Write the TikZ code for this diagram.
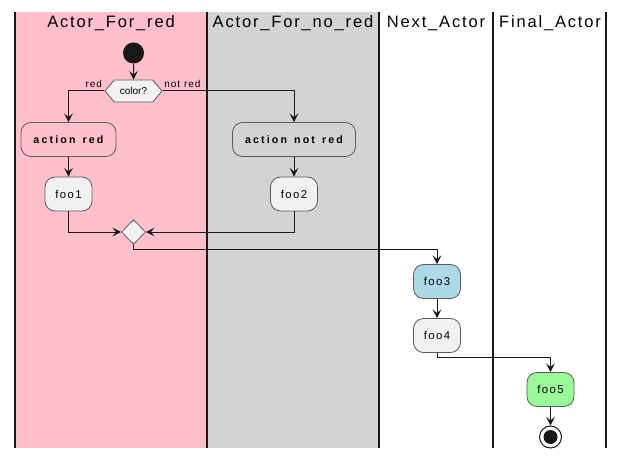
\documentclass[tikz,border=0pt]{standalone}
\usepackage{fontspec}
\setmainfont{Liberation Sans}
\usetikzlibrary{arrows.meta,shapes.geometric,shapes.symbols}
\definecolor{lanered}{HTML}{FFC0CB}
\definecolor{lanegray}{HTML}{D3D3D3}
\definecolor{boxfill}{HTML}{F1F1F1}
\definecolor{boxline}{HTML}{5B5B5B}
\definecolor{inkline}{HTML}{181818}
\definecolor{foothree}{HTML}{ADD8E6}
\definecolor{foofive}{HTML}{98FB98}
\begin{document}
\begin{tikzpicture}[x=0.75pt,y=-0.75pt,
	lanetitle/.style={font=\fontsize{12.4}{14}\selectfont\addfontfeature{LetterSpace=11}},
	actbox/.style={draw=boxline,line width=0.6pt,rounded corners=7.5pt,minimum height=25.5pt,inner sep=0pt,font=\fontsize{8.5}{10}\selectfont\addfontfeature{LetterSpace=12}},
	foobox/.style={actbox,fill=boxfill,minimum width=35.25pt},
	actlabel/.style={actbox,font=\fontsize{8}{10}\selectfont\bfseries\addfontfeature{LetterSpace=20}},
	flow/.style={draw=inkline,line width=0.75pt,-{Stealth[length=6.5pt,width=6.5pt,inset=2.7pt]}},
	branchlabel/.style={font=\fontsize{7.5}{9}\selectfont\addfontfeature{LetterSpace=10},inner sep=0pt}]
	\useasboundingbox (0,0) rectangle (625,460);
	\fill[lanered] (15,12) rectangle (207,448);
	\fill[lanegray] (207,12) rectangle (379,448);
	\foreach \x in {15,207,379,493,606}
		\draw[inkline,line width=0.9pt] (\x,12) -- (\x,448);
	\node[lanetitle] (t1) at (111,23.5) {Actor\_For\_red};
	\node[lanetitle] (t2) at (293,23.5) {Actor\_For\_no\_red};
	\node[lanetitle] (t3) at (436,23.5) {Next\_Actor};
	\node[lanetitle] (t4) at (550,23.5) {Final\_Actor};
	\node[circle,fill=inkline,minimum size=15.8pt,inner sep=0pt] (start) at (133.5,53) {};
	\node[signal,signal to=west and east,signal pointer angle=100,draw=boxline,fill=boxfill,line width=0.6pt,minimum width=42.75pt,minimum height=16.5pt,inner sep=0pt,font=\fontsize{7.5}{9}\selectfont] (color) at (133.5,91) {color?};
	\node[actlabel,fill=lanered,minimum width=71.25pt] (actred) at (68.5,139.5) {action\hspace{1.5pt} red};
	\node[actlabel,fill=lanegray,minimum width=92.25pt] (actnotred) at (294,139.5) {action\hspace{1.5pt} not\hspace{1.5pt} red};
	\node[foobox] (foo1) at (68.5,194) {foo1};
	\node[foobox] (foo2) at (294,194) {foo2};
	\node[diamond,draw=boxline,fill=boxfill,line width=0.6pt,minimum width=18pt,minimum height=18.75pt,inner sep=0pt] (merge) at (133.5,232) {};
	\coordinate (j1) at (133.5,249);
	\node[foobox,fill=foothree] (foo3) at (437,281.5) {foo3};
	\node[foobox] (foo4) at (437,335.5) {foo4};
	\coordinate (j2) at (437,357);
	\node[foobox,fill=foofive] (foo5) at (550.5,389.5) {foo5};
	\node[circle,draw=inkline,fill=white,line width=0.75pt,minimum size=16.5pt,inner sep=0pt] (stop) at (550.5,437) {};
	\fill[inkline] (stop.center) circle (5.25pt);
	\draw[flow] (start) -- (color);
	\draw[flow] (color.west) -| (actred) node[branchlabel,at start,anchor=south east,xshift=-1.5pt,yshift=2pt] {red};
	\draw[flow] (color.east) -| (actnotred) node[branchlabel,at start,anchor=south west,xshift=1pt,yshift=2pt] {not red};
	\draw[flow] (actred) -- (foo1);
	\draw[flow] (actnotred) -- (foo2);
	\draw[flow] (foo1.south) |- (merge.west);
	\draw[flow] (foo2.south) |- (merge.east);
	\draw[flow] (merge.south) -- (j1) -| (foo3);
	\draw[flow] (foo3) -- (foo4);
	\draw[flow] (foo4.south) -- (j2) -| (foo5);
	\draw[flow] (foo5) -- (stop);
\end{tikzpicture}
\end{document}
